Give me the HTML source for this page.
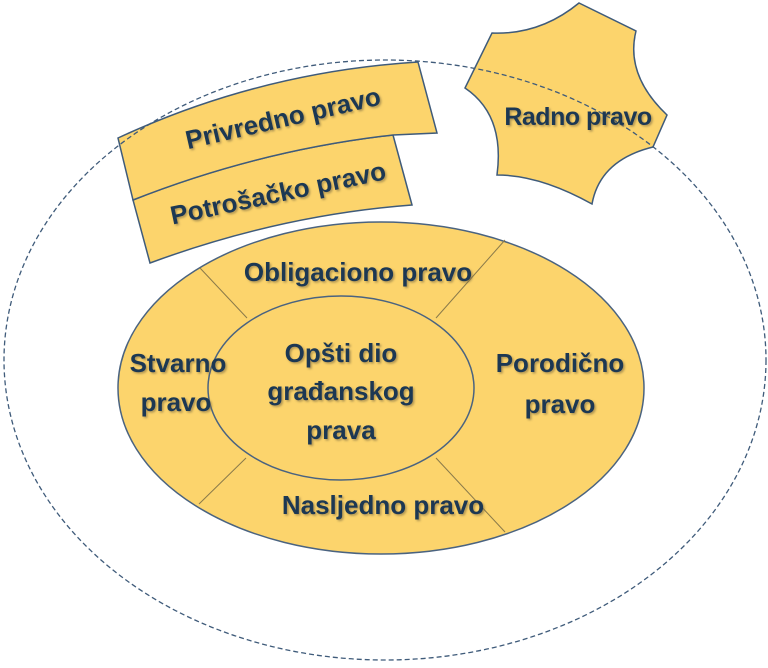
<!DOCTYPE html>
<html><head><meta charset="utf-8"><style>
html,body{margin:0;padding:0;background:#fff;}
svg{display:block;}
text{font-family:"Liberation Sans",sans-serif;font-weight:bold;fill:#1d3953;text-anchor:middle;}
</style></head><body>
<svg width="768" height="668" viewBox="0 0 768 668" xmlns="http://www.w3.org/2000/svg">
<defs>
<filter id="sh" x="-10%" y="-10%" width="130%" height="140%">
<feDropShadow dx="1.5" dy="1.5" stdDeviation="1" flood-color="#7a6a40" flood-opacity="0.6"/>
</filter>
</defs>
<!-- big ellipse -->
<ellipse cx="381" cy="388" rx="263" ry="166" fill="#fcd46c" stroke="#4a6380" stroke-width="1.5"/>
<line x1="200" y1="268" x2="247" y2="318" stroke="#8a7a4a" stroke-width="1"/>
<line x1="505" y1="240" x2="436" y2="318" stroke="#8a7a4a" stroke-width="1"/>
<line x1="246" y1="458" x2="199" y2="504" stroke="#8a7a4a" stroke-width="1"/>
<line x1="436" y1="458" x2="505" y2="532" stroke="#8a7a4a" stroke-width="1"/>
<ellipse cx="341" cy="388" rx="133" ry="92" fill="#fcd46c" stroke="#4a6380" stroke-width="1.5"/>
<!-- banners -->
<path d="M133,200 Q260,150 393,135 L412,205 Q280,215 150,263 Z" fill="#fcd46c" stroke="#3f5b7a" stroke-width="1.5"/>
<path d="M118,138 Q260,72 418,62 L437,133 L393,135 Q260,150 133,200 Z" fill="#fcd46c" stroke="#3f5b7a" stroke-width="1.5"/>
<!-- radno star -->
<path d="M492,33 Q540,35 579,3 L636,31 Q625,75 667,115 L653,147 Q600,160 592,204 Q540,175 497,175 Q505,115 465,88 Z" fill="#fcd46c" stroke="#3f5b7a" stroke-width="1.5"/>
<!-- outer dashed -->
<ellipse cx="385" cy="360" rx="381" ry="300" fill="none" stroke="#3f5b7a" stroke-width="1.3" stroke-dasharray="5,3"/>
<g filter="url(#sh)">
<text x="283" y="127" font-size="26" transform="rotate(-13 283 118)">Privredno pravo</text>
<text x="278" y="202" font-size="26" transform="rotate(-12 278 193)">Potrošačko pravo</text>
<text x="578" y="125" font-size="25" letter-spacing="-0.5">Radno pravo</text>
<text x="358" y="281" font-size="26">Obligaciono pravo</text>
<text x="178" y="372" font-size="26">Stvarno</text>
<text x="176" y="411" font-size="26">pravo</text>
<text x="341" y="362" font-size="26">Opšti dio</text>
<text x="341" y="400" font-size="26">građanskog</text>
<text x="341" y="439" font-size="26">prava</text>
<text x="560" y="372" font-size="26">Porodično</text>
<text x="560" y="413" font-size="26">pravo</text>
<text x="383" y="514" font-size="26">Nasljedno pravo</text>
</g>
</svg>
</body></html>
